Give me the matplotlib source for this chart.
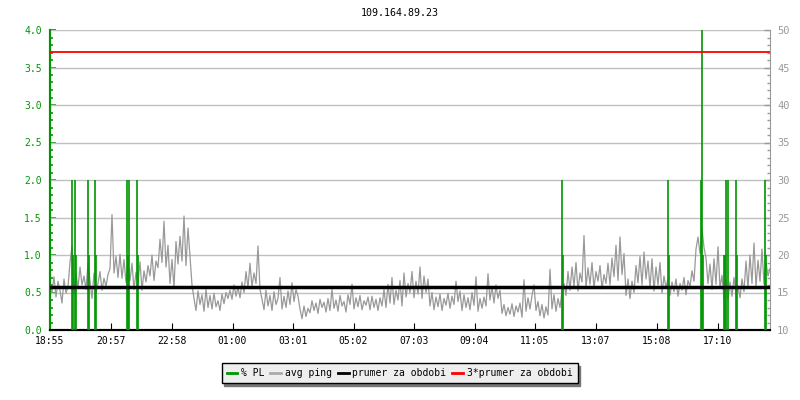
import numpy as np
import matplotlib.pyplot as plt
from matplotlib.lines import Line2D
from matplotlib.ticker import MultipleLocator, FormatStrFormatter

## chart data
title = '109.164.89.23'
start_label = '18:55'
time_labels = ['18:55', '20:57', '22:58', '01:00', '03:01', '05:02',
               '07:03', '09:04', '11:05', '13:07', '15:08', '17:10']
step_min = 4  # minutes between ping samples

## avg ping [ms], one sample every 4 minutes
ping_ms = [
    16.2, 15.0, 17.1, 14.4, 16.5, 15.3, 13.6, 16.8, 14.9, 15.8,
    19.0, 21.2, 14.8, 17.5, 15.6, 18.4, 16.0, 17.2, 15.4, 18.9,
    16.5, 14.2, 17.6, 15.0, 16.2, 17.8, 15.3, 16.9, 15.8, 17.4,
    18.2, 25.4, 17.6, 19.8, 17.0, 20.1, 16.9, 19.4, 16.3, 18.8,
    16.6, 18.9, 15.4, 17.7, 16.2, 19.1, 15.3, 17.9, 16.4, 18.6,
    17.2, 20.0, 16.6, 19.2, 18.3, 22.1, 19.0, 24.5, 18.4, 21.3,
    16.2, 19.4, 15.6, 21.8, 18.8, 22.5, 19.2, 25.2, 18.6, 23.6,
    19.8, 16.0, 14.2, 12.6, 15.2, 13.4, 14.7, 12.5, 15.4, 13.0,
    14.6, 12.8, 14.9, 13.1, 13.9, 12.6, 14.8, 13.5, 15.0, 14.2,
    15.3, 14.1, 16.0, 14.5, 15.7, 14.3, 16.4, 15.0, 17.8, 15.6,
    18.9, 15.8, 17.6, 16.2, 21.2, 15.4, 14.1, 12.7, 15.3, 13.2,
    14.6, 12.6, 15.1, 13.4, 14.2, 17.0, 12.8, 14.5, 13.0, 15.2,
    13.4, 16.3, 13.8, 15.4, 14.5, 12.8, 11.5, 13.2, 11.8, 12.9,
    12.3, 13.9, 12.6, 13.6, 12.2, 14.1, 13.0, 13.7, 12.4, 14.2,
    12.6, 15.4, 12.9, 14.0, 12.5, 14.6, 13.2, 13.8, 12.4, 14.7,
    13.4, 16.1, 12.8, 14.3, 13.1, 14.6, 12.7, 13.9, 13.3, 14.4,
    12.7, 14.5, 13.0, 14.1, 12.6, 14.3, 13.2, 15.4, 13.0, 16.1,
    13.6, 17.0, 13.4, 15.3, 14.0, 16.6, 13.2, 17.6, 14.4, 16.2,
    15.0, 17.8, 14.3, 16.5, 14.8, 18.4, 14.2, 17.2, 15.0, 16.8,
    13.2, 15.0, 12.7, 14.4, 13.1, 14.8, 12.6, 14.2, 13.3, 14.9,
    12.9, 14.5, 13.4, 16.5, 13.8, 15.2, 12.6, 14.7, 13.0, 14.3,
    12.7, 15.0, 13.3, 17.1, 12.5, 14.2, 12.9, 14.4, 13.2, 17.5,
    14.0, 15.8, 13.6, 16.0, 14.2, 15.3, 12.2, 13.4, 11.9, 13.0,
    12.1, 13.5, 11.8, 13.2, 12.4, 13.6, 11.7, 16.7, 12.5, 14.3,
    12.8, 14.6, 16.0, 12.6, 13.8, 11.9, 13.4, 11.6, 13.1, 12.0,
    18.1, 12.8, 14.7, 12.5, 14.2, 13.0, 15.1, 16.2, 14.6, 17.8,
    15.3, 18.4, 15.8, 19.0, 15.2, 17.6, 16.4, 22.6, 15.7, 18.3,
    16.1, 19.0, 15.6, 17.8, 16.5, 18.6, 15.5, 17.4, 16.2, 18.9,
    16.0, 19.6, 17.1, 21.3, 16.6, 22.4, 17.4, 20.2, 14.6, 16.8,
    14.2, 16.5, 15.0, 18.6, 16.3, 19.8, 16.0, 20.4, 16.8, 19.2,
    15.6, 19.5, 15.2, 18.4, 16.0, 19.0, 14.9, 17.2, 15.6, 16.9,
    14.6, 16.4, 15.1, 16.8, 14.5, 16.2, 15.3, 17.0, 14.7, 16.6,
    15.8, 17.9, 16.5, 20.8, 22.4, 20.2, 23.5, 21.0, 19.6, 16.2,
    18.8, 15.4, 19.5, 16.1, 21.1, 15.6, 17.3, 14.2, 16.6, 14.0,
    16.4, 14.5, 17.0, 14.8, 15.9, 14.3, 16.8, 15.1, 19.2, 15.6,
    20.0, 16.2, 21.6, 15.8, 19.3, 16.5, 20.8, 16.1, 19.0, 17.2,
    18.2,
]

## packet loss spikes: minutes from start, % PL
pl_min = [44, 46, 50, 52, 76, 78, 89, 91, 153, 155, 157, 174, 176,
          1024, 1026, 1236, 1238, 1302, 1304, 1306, 1348, 1350, 1352,
          1356, 1372, 1374, 1430, 1432]
pl_val = [2.0, 1.0, 2.0, 1.0, 2.0, 1.0, 2.0, 1.0, 2.0, 1.0, 2.0, 2.0, 1.0,
          2.0, 1.0, 2.0, 1.0, 2.0, 4.0, 1.0, 1.0, 1.0, 2.0,
          2.0, 2.0, 1.0, 2.0, 1.0]

mean_ms = 15.7
mean3_ms = 3 * mean_ms

font = 'DejaVu Sans Mono'
plt.rcParams['font.family'] = font
plt.rcParams['font.size'] = 7

green = '#009600'
gray = '#999999'


def to_minutes(label):
    h, m = label.split(':')
    sh, sm = start_label.split(':')
    return (int(h) * 60 + int(m) - int(sh) * 60 - int(sm)) % 1440


def main():
    fig = plt.figure(figsize=(8, 4), dpi=100)
    ax = fig.add_axes([0.0625, 0.175, 0.9, 0.75])
    ax2 = ax.twinx()

    t = np.arange(len(ping_ms)) * step_min

    ax.set_xlim(0, 1440)
    ax.set_ylim(0, 4)
    ax2.set_ylim(10, 50)

    ## grid (right scale majors line up with left scale majors)
    ax2.set_axisbelow(True)
    ax2.yaxis.grid(True, which='major', color='#c0c0c0', lw=1)

    ax2.plot(t, ping_ms, color=gray, lw=0.9, zorder=2)
    ax2.vlines(pl_min, 0, pl_val, color=green, lw=1.2, zorder=3, transform=ax.transData)
    ax2.axhline(mean_ms, color='black', lw=2.5, zorder=4)
    ax2.axhline(mean3_ms, color='red', lw=1.3, zorder=4)

    ## axes styling
    ax.set_xticks([to_minutes(l) for l in time_labels])
    ax.set_xticklabels(time_labels)
    ax.tick_params(axis='x', direction='in', length=5, color='black', pad=4)

    ax.yaxis.set_major_locator(MultipleLocator(0.5))
    ax.yaxis.set_minor_locator(MultipleLocator(0.1))
    ax.yaxis.set_major_formatter(FormatStrFormatter('%.1f'))
    ax.tick_params(axis='y', which='major', direction='in', length=4.5,
                   color=green, labelcolor=green, width=1.2, pad=6)
    ax.tick_params(axis='y', which='minor', direction='in', length=2.5,
                   color=green, width=1.2)

    ax2.yaxis.set_major_locator(MultipleLocator(5))
    ax2.yaxis.set_minor_locator(MultipleLocator(1))
    ax2.tick_params(axis='y', which='major', direction='in', length=4.5,
                    color=gray, labelcolor=gray, width=1, pad=5, labelsize=7.5)
    ax2.tick_params(axis='y', which='minor', direction='in', length=2.5,
                    color=gray, width=1)

    for a in (ax, ax2):
        a.spines['top'].set_visible(False)
    ax.spines['right'].set_visible(False)
    ax2.spines['left'].set_color(green)
    ax2.spines['left'].set_linewidth(1.5)
    ax2.spines['right'].set_color(gray)
    ax2.spines['bottom'].set_color('black')
    ax2.spines['bottom'].set_linewidth(1.5)
    ax.spines['left'].set_color(green)
    ax.spines['left'].set_linewidth(1.5)
    ax.spines['bottom'].set_linewidth(1.5)

    fig.text(0.5, 0.967, title, ha='center', va='center', fontsize=7.2)

    handles = [Line2D([], [], color=green, lw=2),
               Line2D([], [], color='#aaaaaa', lw=2),
               Line2D([], [], color='black', lw=2),
               Line2D([], [], color='red', lw=2)]
    labels = ['% PL', 'avg ping', 'prumer za obdobi', '3*prumer za obdobi']
    leg = fig.legend(handles, labels, loc='center', bbox_to_anchor=(0.4995, 0.0675),
                     ncol=4, frameon=True, fancybox=False,
                     shadow={'color': '#777777', 'alpha': 1},
                     edgecolor='black', facecolor='#eeeeee', framealpha=1,
                     handlelength=1.1, handletextpad=0.4, columnspacing=0.6,
                     borderpad=0.5, fontsize=7)
    leg.get_frame().set_linewidth(1)

    fig.savefig('out.png', dpi=100)


if __name__ == '__main__':
    main()
